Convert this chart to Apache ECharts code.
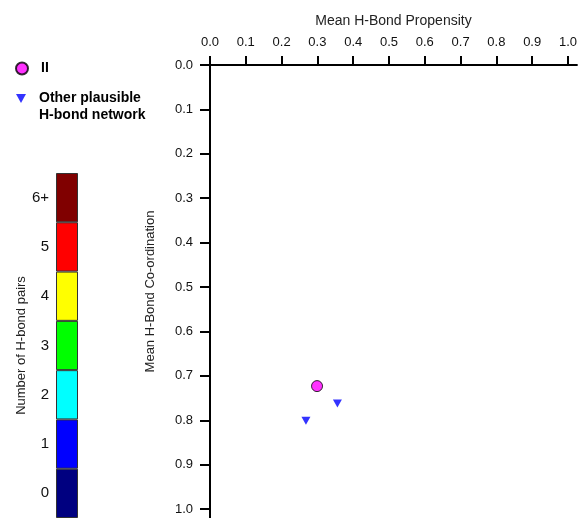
<!DOCTYPE html>
<html>
<head>
<meta charset="utf-8">
<script src="https://cdn.jsdelivr.net/npm/echarts@6/dist/echarts.min.js"></script>
<style>
  html, body { margin: 0; padding: 0; background: #fff; }
  #main { width: 580px; height: 518px; }
</style>
</head>
<body>
<div id="main"></div>
<script>
// 数据
var tickValues = [0, 0.1, 0.2, 0.3, 0.4, 0.5, 0.6, 0.7, 0.8, 0.9, 1.0];
var seriesIIPoints = [[0.299, 0.723]];
var otherNetworkPoints = [[0.356, 0.762], [0.268, 0.801]];
var pairCategories = ['0', '1', '2', '3', '4', '5', '6+'];
var pairColors = ['#000080', '#0000ff', '#00ffff', '#00ff00', '#ffff00', '#ff0000', '#800000'];
var pairSegments = [1, 1, 1, 1, 1, 1, 1];

var otherName = 'Other plausible\nH-bond network';
var triDown = 'path://M0,0L2,0L1,1.8Z';
var font = 'Liberation Sans';

var myChart = echarts.init(document.getElementById('main'));
var legendText = { fontSize: 14, fontWeight: 'bold', color: '#000', lineHeight: 17, padding: [0, 0, 0, 8] };
var option = {
    animation: false,
    textStyle: { fontFamily: font },
    legend: [
        {
            data: ['II'],
            orient: 'vertical',
            left: 15, top: 60,
            padding: 0,
            itemWidth: 12, itemHeight: 12,
            textStyle: legendText
        },
        {
            data: [otherName],
            orient: 'vertical',
            left: 16, top: 73,
            padding: 0,
            itemWidth: 10, itemHeight: 9,
            // 图标与第一行对齐
            formatter: function (name) { return ' \n' + name; },
            textStyle: legendText
        }
    ],
    grid: [
        { left: 210, right: 0, top: 65, bottom: 0, containLabel: false },
        { left: 56, width: 22, top: 173, bottom: 0, containLabel: false }
    ],
    xAxis: [
        {
            type: 'value',
            gridIndex: 0,
            position: 'top',
            min: 0, max: 1.025,
            name: 'Mean H-Bond Propensity',
            nameLocation: 'middle',
            nameGap: 37,
            nameTextStyle: { fontSize: 14, color: '#222' },
            splitLine: { show: false },
            axisLine: { onZero: true, lineStyle: { color: '#000', width: 2 } },
            axisTick: { customValues: tickValues, length: 9, lineStyle: { color: '#000', width: 2 } },
            axisLabel: {
                customValues: tickValues, margin: 16, fontSize: 13, color: '#111',
                formatter: function (v) { return v.toFixed(1); }
            }
        },
        { type: 'value', gridIndex: 1, min: 0, max: 1, show: false }
    ],
    yAxis: [
        {
            type: 'value',
            gridIndex: 0,
            inverse: true,
            min: 0, max: 1.02,
            name: 'Mean H-Bond Co-ordination',
            nameLocation: 'middle',
            nameGap: 53,
            nameTextStyle: { fontSize: 13, color: '#222' },
            splitLine: { show: false },
            axisLine: { onZero: true, lineStyle: { color: '#000', width: 2 } },
            axisTick: { customValues: tickValues, length: 10, lineStyle: { color: '#000', width: 2 } },
            axisLabel: {
                customValues: tickValues, margin: 17, fontSize: 13, color: '#111',
                formatter: function (v) { return v.toFixed(1); }
            }
        },
        {
            type: 'category',
            gridIndex: 1,
            data: pairCategories,
            name: 'Number of H-bond pairs',
            nameLocation: 'middle',
            nameGap: 28,
            nameTextStyle: { fontSize: 13, color: '#222' },
            axisLine: { show: false },
            axisTick: { show: false },
            splitLine: { show: false },
            axisLabel: { fontSize: 15, margin: 7, color: '#111' }
        }
    ],
    series: [
        {
            name: 'II',
            type: 'scatter',
            xAxisIndex: 0, yAxisIndex: 0,
            symbol: 'circle',
            symbolSize: 11,
            itemStyle: { color: '#ff00ff', borderColor: '#000', borderWidth: 1 },
            data: seriesIIPoints
        },
        {
            name: otherName,
            type: 'scatter',
            xAxisIndex: 0, yAxisIndex: 0,
            symbol: triDown,
            symbolSize: [9, 8],
            itemStyle: { color: '#0000ff' },
            data: otherNetworkPoints
        },
        {
            name: 'colorbar',
            type: 'bar',
            xAxisIndex: 1, yAxisIndex: 1,
            barWidth: '100%',
            silent: true,
            data: pairSegments.map(function (v, i) {
                return { value: v, itemStyle: { color: pairColors[i] } };
            }),
            itemStyle: { borderColor: '#333', borderWidth: 1 }
        }
    ]
};
myChart.setOption(option);
</script>
</body>
</html>
